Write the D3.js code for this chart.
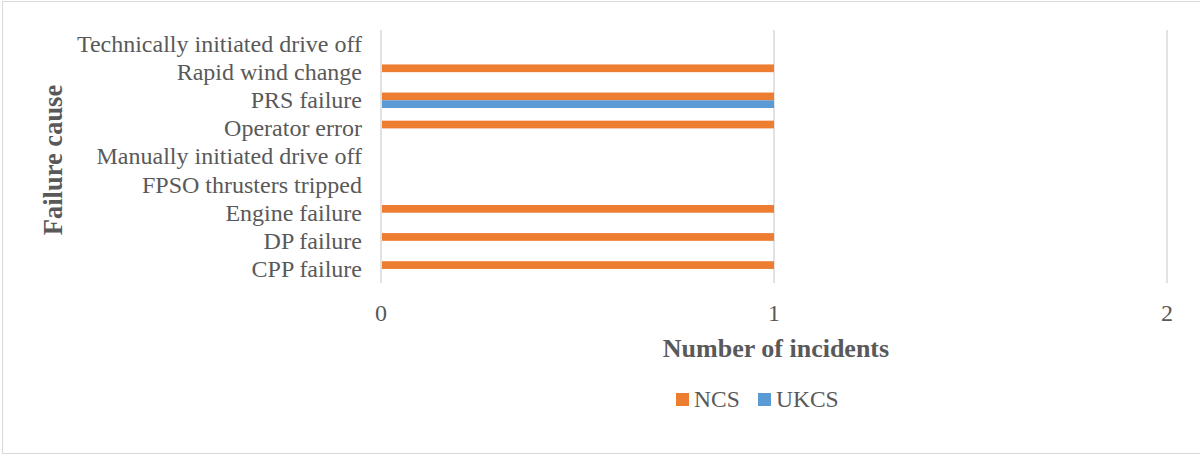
<!DOCTYPE html>
<html>
<head>
<meta charset="utf-8">
<script src="https://cdn.jsdelivr.net/npm/d3@7"></script>
<style>
  html, body { margin: 0; padding: 0; background: #fff; }
  svg { display: block; }
</style>
</head>
<body>
<svg id="chart" width="1200" height="456" font-family="'Liberation Serif', 'Times New Roman', Times, 'DejaVu Serif', serif"></svg>
<script>
// Failure causes, listed bottom to top as they appear on the axis
const categories = [
  "CPP failure",
  "DP failure",
  "Engine failure",
  "FPSO thrusters tripped",
  "Manually initiated drive off",
  "Operator error",
  "PRS failure",
  "Rapid wind change",
  "Technically initiated drive off"
];
const seriesNames = ["NCS", "UKCS"];
const ncsValues  = [1, 1, 1, 0, 0, 1, 1, 1, 0];
const ukcsValues = [0, 0, 0, 0, 0, 0, 1, 0, 0];
const xTicks = [0, 1, 2];
const colors = ["#ed7d31", "#5b9bd5"];

const textColor = "#595959";
const svg = d3.select("#chart");

// Outer frame
svg.append("rect")
  .attr("x", 2.5).attr("y", 1.5)
  .attr("width", 1200).attr("height", 452)
  .attr("fill", "none").attr("stroke", "#d9d9d9").attr("stroke-width", 1);

const plot = { left: 381, right: 1167, top: 30, bottom: 283 };

const x = d3.scaleLinear().domain([0, 2]).range([plot.left, plot.right]);
const y = d3.scaleBand()
  .domain(categories.slice().reverse())
  .range([plot.top, plot.bottom])
  .paddingInner(0.45).paddingOuter(0.225);
const sub = d3.scaleBand().domain(seriesNames).range([0, y.bandwidth()]);

// Vertical gridlines
svg.append("g")
  .selectAll("line")
  .data(xTicks)
  .join("line")
  .attr("x1", d => x(d)).attr("x2", d => x(d))
  .attr("y1", plot.top).attr("y2", plot.bottom)
  .attr("stroke", "#d9d9d9").attr("stroke-width", 1.5);

// Bars
const series = [ncsValues, ukcsValues];
series.forEach((vals, si) => {
  svg.append("g")
    .selectAll("rect")
    .data(categories.map((c, i) => ({ c, v: vals[i] })).filter(d => d.v > 0))
    .join("rect")
    .attr("x", x(0) + 1)
    .attr("y", d => y(d.c) + sub(seriesNames[si]))
    .attr("width", d => x(d.v) - x(0) - 1)
    .attr("height", sub.bandwidth())
    .attr("fill", colors[si]);
});

// Category labels
svg.append("g")
  .selectAll("text")
  .data(categories)
  .join("text")
  .attr("x", 362)
  .attr("y", d => y(d) + y.bandwidth() / 2)
  .attr("dy", "0.33em")
  .attr("text-anchor", "end")
  .attr("font-size", 24)
  .attr("fill", textColor)
  .text(d => d);

// X tick labels
svg.append("g")
  .selectAll("text")
  .data(xTicks)
  .join("text")
  .attr("x", d => x(d))
  .attr("y", 321)
  .attr("text-anchor", "middle")
  .attr("font-size", 24)
  .attr("fill", textColor)
  .text(d => d);

// Axis titles
svg.append("text")
  .attr("x", 776).attr("y", 357)
  .attr("text-anchor", "middle")
  .attr("font-size", 26).attr("font-weight", "bold")
  .attr("fill", textColor)
  .text("Number of incidents");

svg.append("text")
  .attr("transform", "translate(62,160) rotate(-90)")
  .attr("text-anchor", "middle")
  .attr("font-size", 26.5).attr("font-weight", "bold")
  .attr("fill", textColor)
  .text("Failure cause");

// Legend
const legend = svg.append("g");
const legendX = [676, 758];
seriesNames.forEach((name, i) => {
  legend.append("rect")
    .attr("x", legendX[i]).attr("y", 393)
    .attr("width", 13).attr("height", 13)
    .attr("fill", colors[i]);
  legend.append("text")
    .attr("x", legendX[i] + 18).attr("y", 407)
    .attr("font-size", 23.5)
    .attr("fill", textColor)
    .text(name);
});
</script>
</body>
</html>
